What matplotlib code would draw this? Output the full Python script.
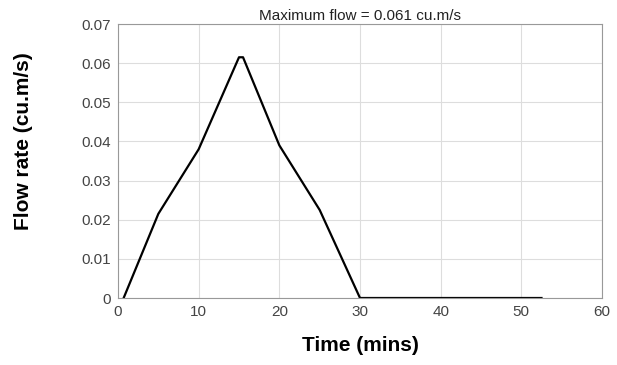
import matplotlib.pyplot as plt

plt.rcParams['font.family'] = ['Liberation Sans', 'DejaVu Sans']

# hydrograph points
time_min = [0.7, 5, 10, 15, 15.5, 20, 25, 30, 52.5]
flow = [0.0, 0.0215, 0.038, 0.0615, 0.0615, 0.039, 0.0225, 0.0, 0.0]
max_flow = 0.061

fig = plt.figure(figsize=(6.17, 3.65), dpi=100)
ax = fig.add_axes([118/617, 1-298/365, 484/617, 274/365])

ax.plot(time_min, flow, color='black', lw=1.6)

ax.set_xlim(0, 60)
ax.set_ylim(0, 0.07)
ax.set_xticks(range(0, 61, 10))
ax.set_yticks([0, 0.01, 0.02, 0.03, 0.04, 0.05, 0.06, 0.07])
ax.set_yticklabels(['0', '0.01', '0.02', '0.03', '0.04', '0.05', '0.06', '0.07'])
ax.grid(color='#dddddd', lw=0.8)
ax.tick_params(length=0, labelsize=11, colors='#444444', pad=5)
for s in ax.spines.values():
    s.set_color('#999999')

ax.set_title('Maximum flow = %.3f cu.m/s' % max_flow, fontsize=11, pad=3, color='#222222')
ax.set_xlabel('Time (mins)', fontsize=15, fontweight='bold', labelpad=12)
ax.set_ylabel('Flow rate (cu.m/s)', fontsize=15, fontweight='bold')
ax.yaxis.set_label_coords(-0.176, 0.571)

plt.savefig('out.png', dpi=100)
